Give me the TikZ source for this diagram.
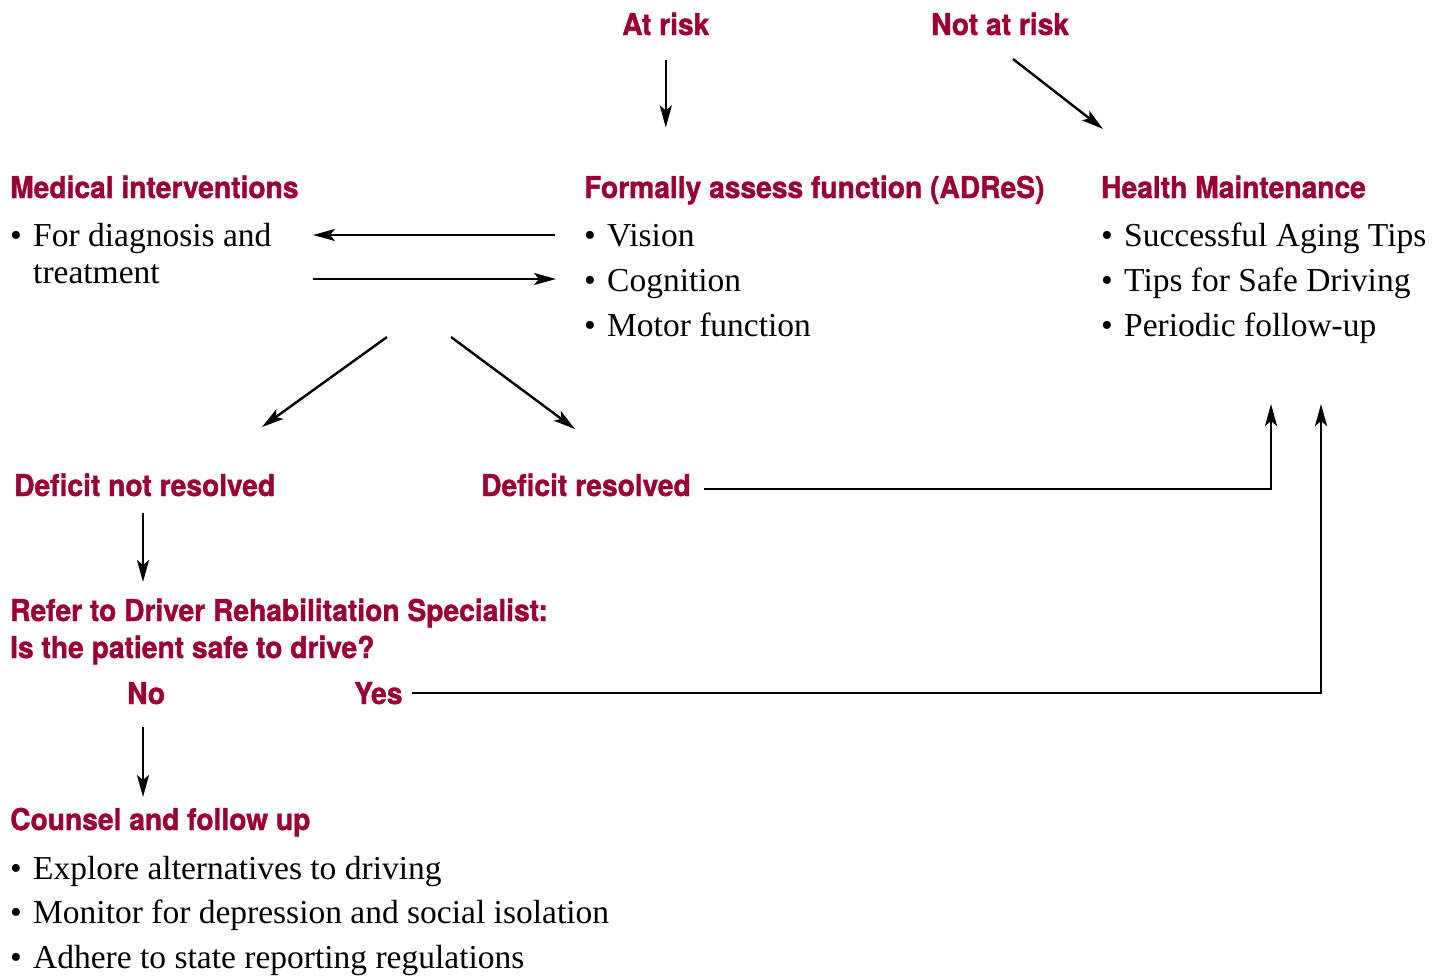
\documentclass[tikz,border=0pt]{standalone}
\usepackage{fontspec}
\setmainfont{Liberation Serif}
\newfontfamily\headfont[FakeStretch=0.94, FakeBold=1.2]{TeX Gyre Heros}
\usepackage{tikz}
\usetikzlibrary{positioning, arrows.meta}
\definecolor{crimson}{HTML}{9B0034}
\newcommand{\itm}{\makebox[23pt][l]{\textbullet}}

\begin{document}
\begin{tikzpicture}[x=1pt, y=-1pt]
                \tikzset{
                    head/.style={font=\headfont\bfseries\fontsize{30}{37}\selectfont, text=crimson, inner sep=0pt, anchor=base west, align=left},
                    body/.style={font=\fontsize{33.5}{45}\selectfont, inner sep=0pt, anchor=base west, align=left},
                    link/.style={line width=2.4pt, -{Stealth[length=22pt, width=12pt, inset=5pt]}}
                }
                \useasboundingbox (0,0) rectangle (1432,978);

                % TOP
                \node[head] (atrisk) at (622,35) {At risk};
                \node[head] (notrisk) at (931,35) {Not at risk};

                % HEADINGS
                \node[head] (medical) at (10,198) {Medical interventions};
                \node[head] (assess) at (584,198) {Formally assess function (ADReS)};
                \node[head] (health) at (1101,198) {Health Maintenance};

                % LISTS (anchored on the last line)
                \node[body, font=\fontsize{33.5}{37}\selectfont] (medlist) at (10,283) {\itm For diagnosis and\\ \makebox[23pt]{}treatment};
                \node[body] (assesslist) at (584,336) {\itm Vision\\ \itm Cognition\\ \itm Motor function};
                \node[body] (healthlist) at (1101,336) {\itm Successful Aging Tips\\ \itm Tips for Safe Driving\\ \itm Periodic follow-up};

                % OUTCOMES
                \node[head] (notres) at (14,496) {Deficit not resolved};
                \node[head] (res) at (481,496) {Deficit resolved};
                \node[head] (refer) at (10,658) {Refer to Driver Rehabilitation Specialist:\\Is the patient safe to drive?};
                \node[head] (no) at (127,704) {No};
                \node[head] (yes) at (354,704) {Yes};
                \node[head] (counsel) at (10,830) {Counsel and follow up};
                \node[body, font=\fontsize{33.5}{44.5}\selectfont] (counsellist) at (10,968) {\itm Explore alternatives to driving\\ \itm Monitor for depression and social isolation\\ \itm Adhere to state reporting regulations};

                % ARROWS
                \draw[link, shorten <=25pt, shorten >=48pt] (atrisk.south) -- (atrisk.south |- assess.north);
                \draw[link] ([shift={(82,24)}]notrisk.base west) -- ([shift={(2,-69)}]health.base west);
                \draw[link] ([shift={(-29,37)}]assess.base west) -- ([shift={(303,37)}]medical.base west);
                \draw[link] ([shift={(303,81)}]medical.base west) -- ([shift={(-28,81)}]assess.base west);
                \draw[link] ([shift={(377,139)}]medical.base west) -- ([shift={(248,-69)}]notres.base west);
                \draw[link] ([shift={(441,139)}]medical.base west) -- ([shift={(94,-67)}]res.base west);
                \draw[link] ([shift={(223,-7)}]res.base west) -| ([shift={(170,68)}]healthlist.base west);
                \draw[link] ([shift={(58,-11)}]yes.base west) -| ([shift={(220,68)}]healthlist.base west);
                \draw[link] ([shift={(129,17)}]notres.base west) -- ([shift={(129,86)}]notres.base west);
                \draw[link] ([shift={(16,23)}]no.base west) -- ([shift={(16,93)}]no.base west);
\end{tikzpicture}
\end{document}
